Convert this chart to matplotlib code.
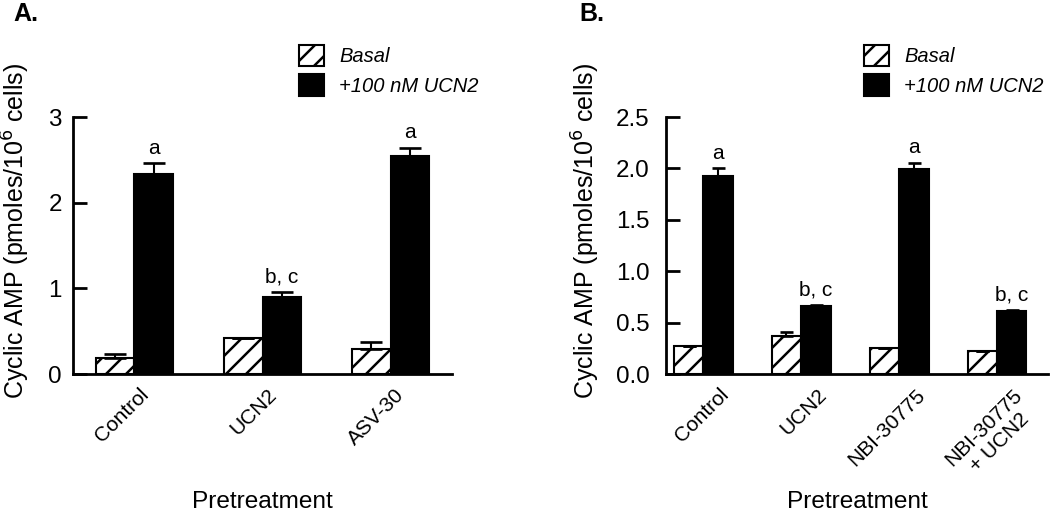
import numpy as np
import matplotlib
matplotlib.use("Agg")
import matplotlib.pyplot as plt
from matplotlib.patches import Patch
from matplotlib.transforms import ScaledTranslation

plt.rcParams['font.family'] = ['Liberation Sans', 'DejaVu Sans']
plt.rcParams['hatch.linewidth'] = 1.5

# panel A data
groups_a = ["Control", "UCN2", "ASV-30"]
basal_a = [0.19, 0.42, 0.29]
basal_err_a = [0.04, 0.0, 0.085]
ucn2_a = [2.33, 0.90, 2.54]
ucn2_err_a = [0.13, 0.06, 0.10]
letters_a = ["a", "b, c", "a"]

# panel B data
groups_b = ["Control", "UCN2", "NBI-30775", "NBI-30775\n+ UCN2"]
basal_b = [0.27, 0.37, 0.25, 0.22]
basal_err_b = [0.0, 0.04, 0.0, 0.0]
ucn2_b = [1.93, 0.66, 1.995, 0.61]
ucn2_err_b = [0.07, 0.01, 0.06, 0.01]
letters_b = ["a", "b, c", "a", "b, c"]

legend_labels = ["Basal", "+100 nM UCN2"]

# 120 dpi so the "//" hatch spacing comes out near the original
fig = plt.figure(figsize=(1050/120, 511/120), dpi=120)
ax_a = fig.add_axes([73/1050, 137/511, 379/1050, 257/511])
ax_b = fig.add_axes([666/1050, 137/511, 382/1050, 257/511])


def draw_panel(ax, groups, basal, basal_err, ucn2, ucn2_err, letters,
               ylim, yticks, fmt, cap, xlim, ypad, xoff):
    x = np.arange(len(groups))
    w = 0.3
    ax.bar(x - w/2, basal, w, color="white", edgecolor="black",
           hatch="//", linewidth=1.25, zorder=2)
    ax.bar(x + w/2, ucn2, w, color="black", edgecolor="black",
           linewidth=1.25, zorder=2)
    ax.errorbar(x - w/2, basal, yerr=[np.zeros(len(x)), basal_err], fmt="none",
                ecolor="black", elinewidth=1.25, capsize=cap, capthick=1.6, zorder=3)
    ax.errorbar(x + w/2, ucn2, yerr=[np.zeros(len(x)), ucn2_err], fmt="none",
                ecolor="black", elinewidth=1.25, capsize=cap, capthick=1.6, zorder=3)
    for xi, v, e, t in zip(x, ucn2, ucn2_err, letters):
        ax.annotate(t, (xi + w/2, v + e), xytext=(0, 5.8), textcoords="offset points",
                    ha="center", va="baseline", fontsize=12.5)

    ax.set_xlim(*xlim)
    ax.set_ylim(*ylim)
    ax.set_yticks(yticks)
    ax.set_yticklabels([fmt % t for t in yticks])
    ax.set_xticks(x)
    ax.set_xticklabels(groups)
    ax.tick_params(axis="y", direction="in", length=8.3, width=1.67,
                   labelsize=14.5, pad=ypad)
    ax.tick_params(axis="x", length=0, labelsize=12.5, pad=6.7)
    off = ScaledTranslation(xoff/72, 0, fig.dpi_scale_trans)
    for lab in ax.get_xticklabels():
        lab.set_rotation(45)
        lab.set_ha("right")
        lab.set_va("top")
        lab.set_rotation_mode("anchor")
        lab.set_multialignment("center")
        lab.set_transform(lab.get_transform() + off)

    for s in ["top", "right"]:
        ax.spines[s].set_visible(False)
    ax.spines["left"].set_linewidth(1.67)
    ax.spines["bottom"].set_linewidth(1.67)

    ax.set_xlabel("Pretreatment", fontsize=14.6)
    ax.xaxis.set_label_coords(0.5, -0.455)
    ax.set_ylabel("Cyclic AMP (pmoles/10$^6$ cells)", fontsize=15)


draw_panel(ax_a, groups_a, basal_a, basal_err_a, ucn2_a, ucn2_err_a, letters_a,
           (0, 3), [0, 1, 2, 3], "%d", 6.7, (-0.48, 2.48), 6.7, 2.5)
ax_a.yaxis.set_label_coords(-0.108, 0.556)

draw_panel(ax_b, groups_b, basal_b, basal_err_b, ucn2_b, ucn2_err_b, letters_b,
           (0, 2.5), [0, 0.5, 1.0, 1.5, 2.0, 2.5], "%.1f", 3.9, (-0.38, 3.52), 10, 9.5)
ax_b.yaxis.set_label_coords(-0.168, 0.556)

handles = [Patch(facecolor="white", edgecolor="black", hatch="//", linewidth=1.25),
           Patch(facecolor="black", edgecolor="black", linewidth=1.25)]
for lx in [299/1050, 864/1050]:
    fig.legend(handles, legend_labels, loc="upper left", bbox_to_anchor=(lx, 0.912),
               frameon=False, prop={"style": "italic", "size": 12.1},
               handlelength=1.25, handleheight=1.25, handletextpad=0.75,
               labelspacing=0.4, borderpad=0, borderaxespad=0)

fig.text(13/1050, 1 - 14/511, "A.", fontsize=15, fontweight="bold", va="center")
fig.text(579/1050, 1 - 14/511, "B.", fontsize=15, fontweight="bold", va="center")

fig.savefig("out.png", dpi=120)
